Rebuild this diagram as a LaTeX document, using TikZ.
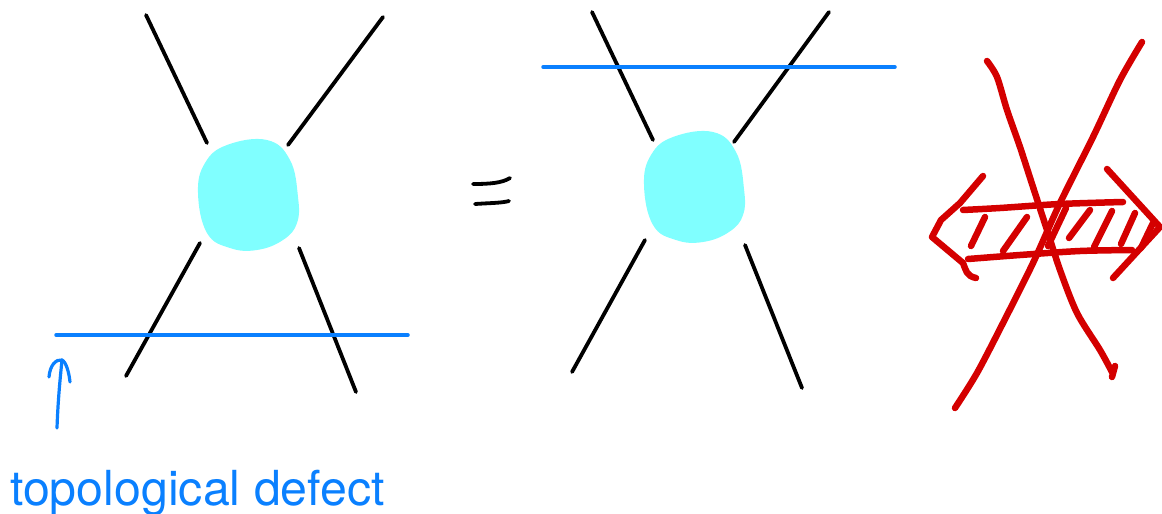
\documentclass[tikz,border=0pt]{standalone}
\usepackage{fontspec}
\setmainfont{TeX Gyre Heros}
\usetikzlibrary{arrows.meta,positioning,calc}
\definecolor{defblue}{RGB}{10,128,255}
\definecolor{blobcyan}{RGB}{128,255,255}
\definecolor{crossred}{RGB}{212,0,0}

\begin{document}
\begin{tikzpicture}[x=1pt,y=-1pt,
  leg/.style={line width=3.8pt, line cap=round},
  defect/.style={line width=3.5pt, defblue, line cap=round},
  blob/.style={fill=blobcyan, draw=none},
  redink/.style={line width=6.5pt, crossred, line cap=round, line join=round},
  eqstroke/.style={line width=3.8pt, line cap=round},
]
\useasboundingbox (0,0) rectangle (1162,514);

% left vertex, defect below
\fill[blob] plot[smooth cycle, tension=0.7] coordinates
  {(227,145) (267,140) (290,160) (298,197) (297,223) (283,240) (257,250) (230,248) (207,233) (198,193) (205,163)};
\draw[leg] (146,15) -- (207,143);
\draw[leg] (383,17) -- (288,145);
\draw[leg] (200,243) -- (126,376);
\draw[leg] (299,248) -- (356,392);
\coordinate (dL) at (56,335);
\coordinate (dR) at (408,335);
\draw[defect] (dL) -- (dR);

% label
\node[anchor=base west, inner sep=0pt, text=defblue, font=\fontsize{48.3}{58}\selectfont] (deflabel) at (10,505) {topological defect};
\coordinate (arrtail) at (57,428);
\coordinate (arrtip) at (62,360);
\draw[defect, line width=3.2pt] (arrtail) .. controls (58,400) and (60,380) .. (arrtip);
\draw[defect, line width=3.2pt, line join=round] (49,377) .. controls (50,365) and (56,359) .. (arrtip) .. controls (66,362) and (69,372) .. (70,382);

% equals
\draw[eqstroke] (473,184) .. controls (490,184) and (502,183) .. (510,178);
\draw[eqstroke] (475,204) .. controls (490,203) and (502,203) .. (509,201);

% right vertex, defect above
\fill[blob] plot[smooth cycle, tension=0.7] coordinates
  {(673,137) (713,132) (736,152) (744,189) (743,215) (729,232) (703,242) (676,240) (653,225) (644,185) (651,155)};
\draw[leg] (592,12) -- (653,140);
\draw[leg] (829,12) -- (734,142);
\draw[leg] (645,240) -- (572,372);
\draw[leg] (745,245) -- (802,388);
\coordinate (uL) at (543,67);
\coordinate (uR) at (895,67);
\draw[defect] (uL) -- (uR);

% crossed-out double arrow
\draw[redink] plot[smooth] coordinates {(987,61) (997,77) (1007,110) (1020,147) (1033,187) (1047,230) (1060,270) (1077,313) (1100,350) (1112,372)};
\draw[redink] (1115,366) -- (1112,377);
\draw[redink] plot[smooth] coordinates {(1142,42) (1120,80) (1093,137) (1060,203) (1033,263) (1003,323) (977,373) (955,408)};
\draw[redink] (983,176) -- (960,203) -- (941,220) -- (932,237) -- (963,263) .. controls (966,270) and (966,276) .. (976,278);
\draw[redink] (1107,169) -- (1160,227) -- (1113,278);
\draw[redink] plot[smooth] coordinates {(963,210) (1000,208) (1060,204) (1123,202)};
\draw[redink] plot[smooth] coordinates {(968,259) (1020,255) (1080,251) (1132,250)};
\foreach \ha/\hb in {{(985,217)}/{(971,246)}, {(1027,217)}/{(1003,251)}, {(1066,208)}/{(1048,246)}, {(1090,210)}/{(1069,238)}, {(1112,211)}/{(1094,247)}, {(1135,213)}/{(1121,244)}, {(1153,223)}/{(1141,248)}}
  \draw[redink] \ha -- \hb;
\end{tikzpicture}
\end{document}
